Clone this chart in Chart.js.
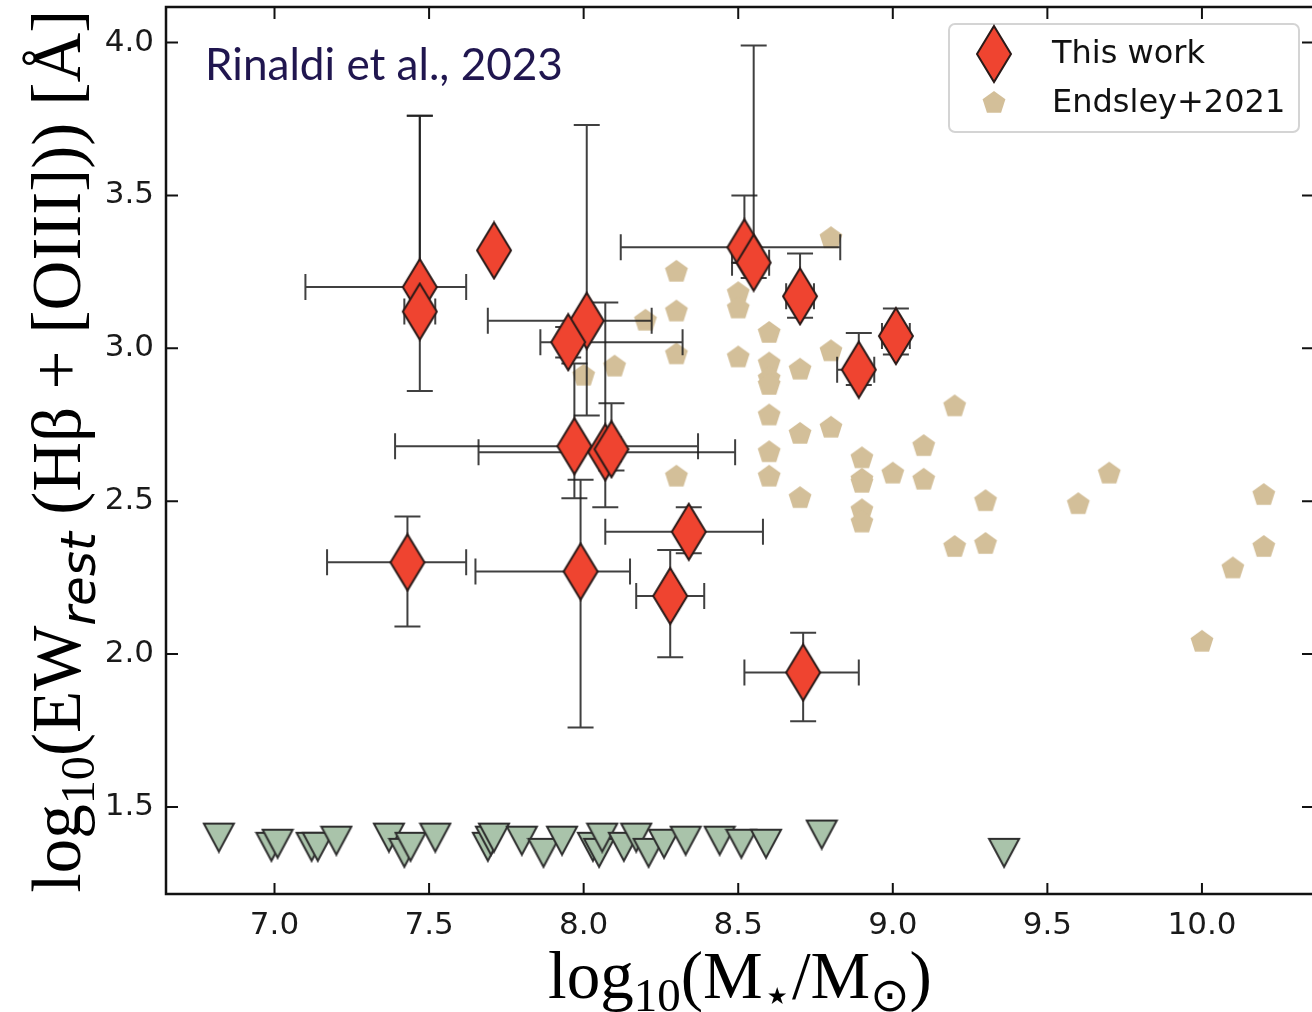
<!DOCTYPE html>
<html>
<head>
<meta charset="utf-8">
<script src="https://cdn.jsdelivr.net/npm/chart.js@4.4.1/dist/chart.umd.min.js"></script>
<style>
  html, body { margin: 0; padding: 0; background: #fff; }
  canvas { display: block; }
</style>
</head>
<body>
<canvas id="chart" width="1312" height="1012"></canvas>
<script>
/* =======================
   DATA
======================= */
const xTicks = [7.0, 7.5, 8.0, 8.5, 9.0, 9.5, 10.0];
const yTicks = [1.5, 2.0, 2.5, 3.0, 3.5, 4.0];

// This work (diamonds with error bars)
const workX   = [7.47, 7.47, 7.71, 8.01, 7.95, 7.97, 8.07, 8.09, 7.43, 7.99, 8.34, 8.28, 8.71, 8.52, 8.55, 8.70, 8.89, 9.01];
const workY   = [3.20, 3.12, 3.32, 3.09, 3.02, 2.68, 2.66, 2.67, 2.30, 2.27, 2.40, 2.19, 1.94, 3.33, 3.28, 3.17, 2.93, 3.04];
const workXLo = [7.10, 7.42, null, 7.69, 7.86, 7.39, 7.66, 8.06, 7.17, 7.65, 8.07, 8.17, 8.52, 8.12, 8.48, 8.655, 8.82, 8.965];
const workXHi = [7.62, 7.52, null, 8.22, 8.32, 8.37, 8.49, 8.12, 7.62, 8.15, 8.58, 8.39, 8.89, 8.83, 8.60, 8.745, 8.94, 9.055];
const workYLo = [3.10, 2.86, null, 2.78, 2.97, 2.51, 2.48, 2.60, 2.09, 1.76, 2.33, 1.99, 1.78, 3.28, 3.23, 3.10, 2.88, 2.98];
const workYHi = [3.76, 3.76, null, 3.73, 3.07, 2.95, 3.15, 2.82, 2.45, 2.57, 2.48, 2.34, 2.07, 3.50, 3.99, 3.31, 3.05, 3.13];

// Endsley+2021 (pentagons)
const endX = [8.8, 8.3, 8.5, 8.5, 8.3, 8.2, 8.6, 8.3, 8.5, 8.8, 8.0, 8.1, 8.6, 8.6, 8.6, 8.7, 9.2, 8.6, 8.7, 8.8,
              8.6, 8.3, 8.6, 8.9, 8.9, 8.9, 9.0, 9.1, 9.1, 8.7, 8.9, 8.9, 9.3, 9.2, 9.3, 9.7, 9.6, 10.2, 10.2, 10.1, 10.0];
const endY = [3.36, 3.25, 3.18, 3.13, 3.12, 3.09, 3.05, 2.98, 2.97, 2.99, 2.91, 2.94, 2.95, 2.90, 2.88, 2.93, 2.81, 2.78, 2.72, 2.74,
              2.66, 2.58, 2.58, 2.64, 2.57, 2.56, 2.59, 2.68, 2.57, 2.51, 2.47, 2.43, 2.50, 2.35, 2.36, 2.59, 2.49, 2.52, 2.35, 2.28, 2.04];

// Upper limits (down triangles)
const limX = [6.82, 6.99, 7.01, 7.12, 7.14, 7.20, 7.37, 7.42, 7.44, 7.52, 7.69, 7.70, 7.71, 7.80, 7.87, 7.93, 8.03, 8.05, 8.06,
              8.13, 8.17, 8.21, 8.26, 8.33, 8.44, 8.51, 8.59, 8.77, 9.36];
const limY = [1.40, 1.37, 1.38, 1.37, 1.37, 1.39, 1.40, 1.35, 1.37, 1.40, 1.37, 1.39, 1.40, 1.39, 1.35, 1.39, 1.37, 1.35, 1.40,
              1.37, 1.40, 1.35, 1.38, 1.39, 1.39, 1.38, 1.38, 1.41, 1.35];

/* =======================
   MARKERS
======================= */
function makeDiamond(w, h) {
  const c = document.createElement("canvas");
  c.width = w + 4; c.height = h + 4;
  const g = c.getContext("2d");
  g.beginPath();
  g.moveTo(c.width / 2, 2);
  g.lineTo(c.width - 2, c.height / 2);
  g.lineTo(c.width / 2, c.height - 2);
  g.lineTo(2, c.height / 2);
  g.closePath();
  g.fillStyle = "#ef4430";
  g.fill();
  g.lineWidth = 2;
  g.strokeStyle = "#2a1a18";
  g.stroke();
  return c;
}

function makePentagon(r) {
  const c = document.createElement("canvas");
  c.width = c.height = Math.ceil(r * 2 + 2);
  const g = c.getContext("2d");
  g.beginPath();
  for (let k = 0; k < 5; k++) {
    let a = -Math.PI / 2 + k * 2 * Math.PI / 5;
    let px = c.width / 2 + r * Math.cos(a);
    let py = c.height / 2 + r * Math.sin(a);
    if (k === 0) g.moveTo(px, py); else g.lineTo(px, py);
  }
  g.closePath();
  g.fillStyle = "#d3bf99";
  g.fill();
  return c;
}

function makeTriangle(w, h) {
  const c = document.createElement("canvas");
  c.width = w + 4; c.height = h + 4;
  const g = c.getContext("2d");
  g.beginPath();
  g.moveTo(2, 2);
  g.lineTo(c.width - 2, 2);
  g.lineTo(c.width / 2, c.height - 2);
  g.closePath();
  g.fillStyle = "#a9c3aa";
  g.fill();
  g.lineWidth = 2;
  g.strokeStyle = "#2e2e2e";
  g.stroke();
  return c;
}

const diamondImg = makeDiamond(34, 56);
const pentImg = makePentagon(12);
const triImg = makeTriangle(30, 28);

/* =======================
   PLUGINS
======================= */
const errorBars = {
  id: "errorBars",
  beforeDatasetDraw(chart, args) {
    if (args.index !== 0) return;
    const { ctx, scales: { x, y } } = chart;
    const cap = 13;
    ctx.save();
    ctx.strokeStyle = "rgba(30,30,30,0.85)";
    ctx.lineWidth = 2;
    workX.forEach((v, i) => {
      const px = x.getPixelForValue(v);
      const py = y.getPixelForValue(workY[i]);
      ctx.beginPath();
      if (workXLo[i] !== null) {
        const a = x.getPixelForValue(workXLo[i]);
        const b = x.getPixelForValue(workXHi[i]);
        ctx.moveTo(a, py); ctx.lineTo(b, py);
        ctx.moveTo(a, py - cap); ctx.lineTo(a, py + cap);
        ctx.moveTo(b, py - cap); ctx.lineTo(b, py + cap);
      }
      if (workYLo[i] !== null) {
        const a = y.getPixelForValue(workYLo[i]);
        const b = y.getPixelForValue(workYHi[i]);
        ctx.moveTo(px, a); ctx.lineTo(px, b);
        ctx.moveTo(px - cap, a); ctx.lineTo(px + cap, a);
        ctx.moveTo(px - cap, b); ctx.lineTo(px + cap, b);
      }
      ctx.stroke();
    });
    ctx.restore();
  }
};

// draws a list of text pieces (with subscripts) fitted to a given length
function piecesFont(p, size) {
  const s = size * (p.s || 1);
  if (p.f === "sans") return "italic " + s + "px 'DejaVu Sans'";
  if (p.f === "sym") return s + "px 'DejaVu Sans'";
  return s + "px 'Liberation Serif'";
}

function drawPieces(ctx, pieces, length, cx, baseY) {
  let total = 0;
  pieces.forEach(p => { ctx.font = piecesFont(p, 100); total += ctx.measureText(p.t).width; });
  const size = 100 * length / total;
  let pos = cx - length / 2;
  pieces.forEach(p => {
    ctx.font = piecesFont(p, size);
    ctx.fillText(p.t, pos, baseY + (p.dy || 0) * size);
    pos += ctx.measureText(p.t).width;
  });
}

const decor = {
  id: "decor",
  afterDraw(chart) {
    const { ctx, chartArea: a, scales: { x, y } } = chart;
    ctx.save();

    // spines
    ctx.strokeStyle = "#111";
    ctx.lineWidth = 2.5;
    ctx.beginPath();
    ctx.moveTo(a.right + 2, a.top); ctx.lineTo(a.left, a.top);
    ctx.lineTo(a.left, a.bottom); ctx.lineTo(a.right + 2, a.bottom);
    ctx.stroke();

    // inward ticks on all sides
    ctx.lineWidth = 2;
    ctx.beginPath();
    xTicks.forEach(v => {
      const px = x.getPixelForValue(v);
      ctx.moveTo(px, a.bottom); ctx.lineTo(px, a.bottom - 11);
      ctx.moveTo(px, a.top); ctx.lineTo(px, a.top + 12);
    });
    yTicks.forEach(v => {
      const py = y.getPixelForValue(v);
      ctx.moveTo(a.left, py); ctx.lineTo(a.left + 12, py);
      ctx.moveTo(a.right, py); ctx.lineTo(a.right - 10, py);
    });
    ctx.stroke();

    // axis titles
    ctx.fillStyle = "#000";
    ctx.textBaseline = "alphabetic";
    drawPieces(ctx, [
      { t: "log" }, { t: "10", s: 0.7, dy: 0.2 }, { t: "(M" },
      { t: "\u22C6", f: "sym", s: 0.7, dy: 0.2 }, { t: "/M" },
      { t: "\u2299", f: "sym", s: 0.7, dy: 0.2 }, { t: ")" }
    ], 384, 740, 998);

    ctx.save();
    ctx.translate(80, 451);
    ctx.rotate(-Math.PI / 2);
    drawPieces(ctx, [
      { t: "log" }, { t: "10", s: 0.7, dy: 0.2 }, { t: "(EW" },
      { t: "rest", f: "sans", s: 0.7, dy: 0.22 },
      { t: " (H\u03B2 + [OIII])) [\u00C5]" }
    ], 883, 0, 0);
    ctx.restore();

    // annotation
    ctx.fillStyle = "#20164f";
    ctx.font = "40px Lato";
    const note = "Rinaldi et al., 2023";
    const fs = 40 * 358 / ctx.measureText(note).width;
    ctx.font = fs + "px Lato";
    ctx.fillText(note, 205, 80);

    // legend
    ctx.fillStyle = "rgba(255,255,255,0.85)";
    ctx.strokeStyle = "#d4d4d4";
    ctx.lineWidth = 2;
    ctx.beginPath();
    ctx.roundRect(949, 24, 350, 108, 6);
    ctx.fill();
    ctx.stroke();
    const items = chart.data.datasets.slice(0, 2);
    items.forEach((ds, i) => {
      const cy = i === 0 ? 54 : 103;
      const img = ds.pointStyle;
      ctx.drawImage(img, 994 - img.width / 2, cy - img.height / 2);
      ctx.fillStyle = "#111";
      ctx.font = "32px 'DejaVu Sans'";
      ctx.fillText(ds.label, 1052, i === 0 ? 63 : 112);
    });

    ctx.restore();
  }
};

/* =======================
   CHART
======================= */
const tickFont = { family: "DejaVu Sans", size: 31 };

new Chart(document.getElementById("chart"), {
  type: "scatter",
  data: {
    datasets: [
      {
        label: "This work",
        data: workX.map((v, i) => ({ x: v, y: workY[i] })),
        pointStyle: diamondImg,
        pointRadius: 10,
        order: 0
      },
      {
        label: "Endsley+2021",
        data: endX.map((v, i) => ({ x: v, y: endY[i] })),
        pointStyle: pentImg,
        pointRadius: 10,
        order: 2
      },
      {
        label: "Upper limits",
        data: limX.map((v, i) => ({ x: v, y: limY[i] })),
        pointStyle: triImg,
        pointRadius: 10,
        order: 1
      }
    ]
  },
  options: {
    responsive: false,
    animation: false,
    layout: { autoPadding: false, padding: { top: 7, right: 0, left: 0, bottom: 0 } },
    plugins: { legend: { display: false }, tooltip: { enabled: false } },
    scales: {
      x: {
        type: "linear",
        min: 6.649,
        max: 10.356,
        afterFit: s => {
          s.height = 118;
          s.paddingLeft = 0; s.paddingRight = 0;
        },
        afterBuildTicks: s => { s.ticks = xTicks.map(v => ({ value: v })); },
        grid: { display: false, drawTicks: false },
        border: { display: false },
        ticks: {
          font: tickFont, color: "#1a1a1a", padding: 13,
          autoSkip: false, maxRotation: 0,
          callback: v => v.toFixed(1)
        }
      },
      y: {
        type: "linear",
        min: 1.2155,
        max: 4.116,
        afterFit: s => {
          s.width = 166;
          s.paddingTop = 0; s.paddingBottom = 0;
        },
        afterBuildTicks: s => { s.ticks = yTicks.map(v => ({ value: v })); },
        grid: { display: false, drawTicks: false },
        border: { display: false },
        ticks: {
          font: tickFont, color: "#1a1a1a", padding: 12,
          autoSkip: false,
          callback: v => v.toFixed(1)
        }
      }
    }
  },
  plugins: [errorBars, decor]
});
</script>
</body>
</html>
